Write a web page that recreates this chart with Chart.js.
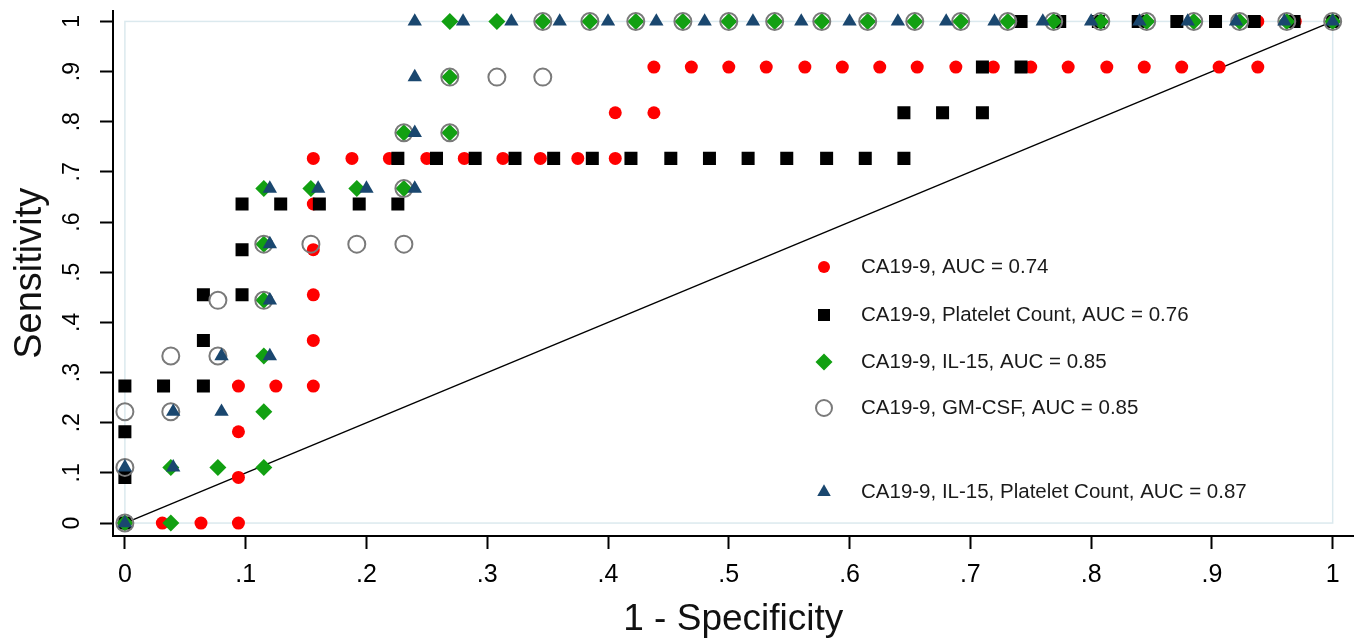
<!DOCTYPE html>
<html>
<head>
<meta charset="utf-8">
<title>ROC curves</title>
<script src="https://cdn.jsdelivr.net/npm/chart.js@4.4.1/dist/chart.umd.min.js"></script>
<style>
  html, body { margin: 0; padding: 0; background: #fff; }
  canvas { display: block; }
</style>
</head>
<body>
<canvas id="roc" width="1364" height="638"></canvas>
<script>
// ROC points: [1 - specificity, sensitivity]
const ca199 = [
  [0, 0], [.031, 0], [.063, 0], [.094, 0], [.094, .091], [.094, .182], [.094, .273],
  [.125, .273], [.156, .273], [.156, .364], [.156, .455], [.156, .545], [.156, .636], [.156, .727],
  [.188, .727], [.219, .727], [.25, .727], [.281, .727], [.313, .727], [.344, .727], [.375, .727],
  [.406, .727], [.406, .818], [.438, .818], [.438, .909], [.469, .909], [.5, .909], [.531, .909],
  [.563, .909], [.594, .909], [.625, .909], [.656, .909], [.688, .909], [.719, .909], [.75, .909],
  [.781, .909], [.813, .909], [.844, .909], [.875, .909], [.906, .909], [.938, .909], [.938, 1],
  [.969, 1], [1, 1]
];
const ca199Plt = [
  [0, 0], [0, .091], [0, .182], [0, .273], [.032, .273], [.065, .273], [.065, .364], [.065, .455],
  [.097, .455], [.097, .545], [.097, .636], [.129, .636], [.161, .636], [.194, .636], [.226, .636],
  [.226, .727], [.258, .727], [.29, .727], [.323, .727], [.355, .727], [.387, .727], [.419, .727],
  [.452, .727], [.484, .727], [.516, .727], [.548, .727], [.581, .727], [.613, .727], [.645, .727],
  [.645, .818], [.677, .818], [.71, .818], [.71, .909], [.742, .909], [.742, 1], [.774, 1],
  [.806, 1], [.839, 1], [.871, 1], [.903, 1], [.935, 1], [.968, 1], [1, 1]
];
const ca199Il15 = [
  [0, 0], [.038, 0], [.038, .111], [.077, .111], [.115, .111], [.115, .222], [.115, .333],
  [.115, .444], [.115, .556], [.115, .667], [.154, .667], [.192, .667], [.231, .667], [.231, .778],
  [.269, .778], [.269, .889], [.269, 1], [.308, 1], [.346, 1], [.385, 1], [.423, 1], [.462, 1],
  [.5, 1], [.538, 1], [.577, 1], [.615, 1], [.654, 1], [.692, 1], [.731, 1], [.769, 1], [.808, 1],
  [.846, 1], [.885, 1], [.923, 1], [.962, 1], [1, 1]
];
const ca199Gm = [
  [0, 0], [0, .111], [0, .222], [.038, .222], [.038, .333], [.077, .333], [.077, .444], [.115, .444],
  [.115, .556], [.154, .556], [.192, .556], [.231, .556], [.231, .667], [.231, .778], [.269, .778],
  [.269, .889], [.308, .889], [.346, .889], [.346, 1], [.385, 1], [.423, 1], [.462, 1], [.5, 1],
  [.538, 1], [.577, 1], [.615, 1], [.654, 1], [.692, 1], [.731, 1], [.769, 1], [.808, 1],
  [.846, 1], [.885, 1], [.923, 1], [.962, 1], [1, 1]
];
const ca199Il15Plt = [
  [0, 0], [0, .111], [.04, .111], [.04, .222], [.08, .222], [.08, .333], [.12, .333], [.12, .444],
  [.12, .556], [.12, .667], [.16, .667], [.2, .667], [.24, .667], [.24, .778], [.24, .889], [.24, 1],
  [.28, 1], [.32, 1], [.36, 1], [.4, 1], [.44, 1], [.48, 1], [.52, 1], [.56, 1], [.6, 1], [.64, 1],
  [.68, 1], [.72, 1], [.76, 1], [.8, 1], [.84, 1], [.88, 1], [.92, 1], [.96, 1], [1, 1]
];
const refLine = [[0, 0], [1, 1]];

const seriesNames = [
  'CA19-9, AUC = 0.74',
  'CA19-9, Platelet Count, AUC = 0.76',
  'CA19-9, IL-15, AUC = 0.85',
  'CA19-9, GM-CSF, AUC = 0.85',
  'CA19-9, IL-15, Platelet Count, AUC = 0.87'
];

const tickValues = [0, .1, .2, .3, .4, .5, .6, .7, .8, .9, 1];
const tickLabels = ['0', '.1', '.2', '.3', '.4', '.5', '.6', '.7', '.8', '.9', '1'];

const FONT = '"Liberation Sans", Arial, Helvetica, sans-serif';
Chart.defaults.font.family = FONT;

const toXY = pts => pts.map(p => ({ x: p[0], y: p[1] }));

// light blue frame around the [0,1] x [0,1] region
const plotBox = {
  id: 'plotBox',
  beforeDatasetsDraw(chart) {
    const { ctx, scales: { x, y } } = chart;
    const x0 = x.getPixelForValue(0), x1 = x.getPixelForValue(1);
    const y0 = y.getPixelForValue(0), y1 = y.getPixelForValue(1);
    ctx.save();
    ctx.strokeStyle = '#dbe9ee';
    ctx.lineWidth = 1.5;
    ctx.strokeRect(x0, y1, x1 - x0, y0 - y1);
    ctx.restore();
  }
};

// key inside the plot, with the gap before the last row
const keyLegend = {
  id: 'keyLegend',
  afterDatasetsDraw(chart) {
    const ctx = chart.ctx;
    const rowsY = [267, 315, 362, 408, 492];
    ctx.save();
    ctx.font = '20.5px ' + FONT;
    ctx.textBaseline = 'middle';
    seriesNames.forEach((name, i) => {
      const ds = chart.data.datasets[i];
      ctx.fillStyle = ds.backgroundColor;
      ctx.strokeStyle = ds.borderColor;
      ctx.lineWidth = ds.borderWidth;
      Chart.helpers.drawPoint(ctx, {
        pointStyle: ds.pointStyle, radius: ds.keyRadius, rotation: 0, borderWidth: ds.borderWidth
      }, 824, rowsY[i]);
      ctx.fillStyle = '#1a1a1a';
      ctx.fillText(name, 861, rowsY[i]);
    });
    ctx.restore();
  }
};

const datasets = [
  { label: seriesNames[0], data: toXY(ca199), pointStyle: 'circle', pointRadius: 6.5, keyRadius: 6,
    backgroundColor: '#ff0000', borderColor: '#ff0000', borderWidth: 0, order: 5 },
  { label: seriesNames[1], data: toXY(ca199Plt), pointStyle: 'rect', pointRadius: 9.2, keyRadius: 8.5,
    backgroundColor: '#000000', borderColor: '#000000', borderWidth: 0, order: 4 },
  { label: seriesNames[2], data: toXY(ca199Il15), pointStyle: 'rectRot', pointRadius: 8.5, keyRadius: 8.5,
    backgroundColor: '#12a012', borderColor: '#12a012', borderWidth: 0, order: 3 },
  { label: seriesNames[3], data: toXY(ca199Gm), pointStyle: 'circle', pointRadius: 8.5, keyRadius: 8,
    backgroundColor: 'rgba(0,0,0,0)', borderColor: '#7a7a7a', borderWidth: 2, order: 2 },
  { label: seriesNames[4], data: toXY(ca199Il15Plt), pointStyle: 'triangle', pointRadius: 8.3, keyRadius: 7.8,
    backgroundColor: '#1a476f', borderColor: '#1a476f', borderWidth: 0, order: 1 },
  { type: 'line', label: 'reference', data: toXY(refLine), borderColor: '#000000', borderWidth: 1.4,
    pointRadius: 0, fill: false, order: 6 }
];

const setTicks = scale => { scale.ticks = tickValues.map(v => ({ value: v })); };

new Chart(document.getElementById('roc'), {
  type: 'scatter',
  data: { datasets },
  options: {
    responsive: false,
    animation: false,
    devicePixelRatio: 1,
    events: [],
    layout: { padding: { top: 8, right: 0, left: 0, bottom: 0 } },
    plugins: { legend: { display: false }, tooltip: { enabled: false } },
    elements: { point: { hoverRadius: 0 } },
    scales: {
      x: {
        type: 'linear',
        min: -0.00985,
        max: 1.01724,
        afterBuildTicks: setTicks,
        afterFit(s) { s.height = 102; s.paddingLeft = 0; s.paddingRight = 0; },
        border: { display: true, color: '#000', width: 2 },
        grid: { drawOnChartArea: false, drawTicks: true, tickLength: 13, tickWidth: 2, tickColor: '#000' },
        ticks: {
          autoSkip: false, maxRotation: 0, padding: 11, color: '#000',
          font: { size: 25 },
          callback: (v, i) => tickLabels[i]
        },
        title: {
          display: true, text: '1 - Specificity', color: '#111',
          font: { size: 37, lineHeight: 1 }, padding: { top: 0, bottom: 0 }
        }
      },
      y: {
        type: 'linear',
        min: -0.0258,
        max: 1.0218,
        afterBuildTicks: setTicks,
        afterFit(s) { s.width = 113; s.paddingTop = 0; s.paddingBottom = 0; },
        border: { display: true, color: '#000', width: 2 },
        grid: { drawOnChartArea: false, drawTicks: true, tickLength: 13, tickWidth: 2, tickColor: '#000' },
        ticks: {
          autoSkip: false, minRotation: 90, maxRotation: 90, crossAlign: 'center', padding: 18, color: '#000',
          font: { size: 23 },
          callback: (v, i) => tickLabels[i]
        },
        title: {
          display: true, text: 'Sensitivity', color: '#111',
          font: { size: 38, lineHeight: 1 }, padding: { top: 12, bottom: 0 }
        }
      }
    }
  },
  plugins: [plotBox, keyLegend]
});
</script>
</body>
</html>
